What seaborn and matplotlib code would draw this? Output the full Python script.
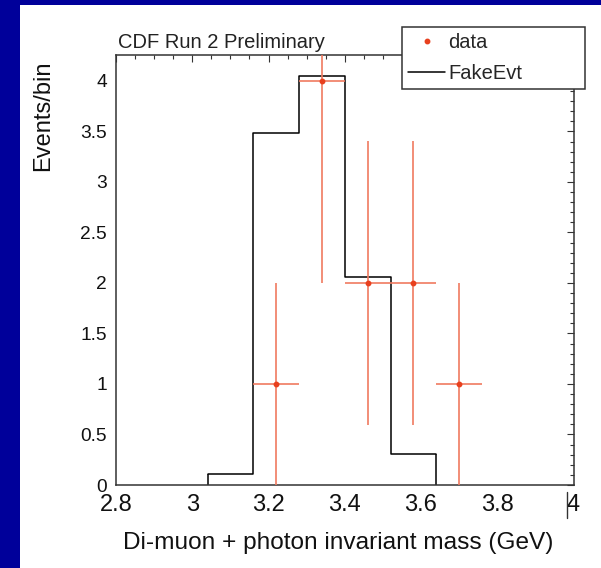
import matplotlib
matplotlib.use('Agg')
import matplotlib.pyplot as plt
from matplotlib.lines import Line2D
from matplotlib.patches import Rectangle
from matplotlib.ticker import MultipleLocator, FormatStrFormatter
import numpy as np
import seaborn as sns

# FakeEvt expectation (step histogram)
bin_edges = [3.04, 3.16, 3.28, 3.40, 3.52, 3.64]
fake_counts = [0.11, 3.48, 4.05, 2.06, 0.31]

# observed data with errors
data_mass = [3.22, 3.34, 3.46, 3.58, 3.70]
data_counts = [1, 4, 2, 2, 1]
data_xerr = [0.06, 0.06, 0.06, 0.06, 0.06]
data_yerr = [1.0, 2.0, 1.41, 1.41, 1.0]

W, H = 601, 568
NAVY = '#00009a'
RED = '#e8401e'
ERR = '#f07a60'
FRAME = '#333333'

sns.set_theme(style='white')
plt.rcParams['font.family'] = ['Liberation Sans', 'DejaVu Sans']

fig = plt.figure(figsize=(W / 100, H / 100), dpi=100, facecolor=NAVY)
fig.add_artist(Rectangle((20 / W, 0), 1, 563 / H, transform=fig.transFigure,
                         facecolor='white', edgecolor='none', zorder=-5))

ax = fig.add_axes([116 / W, 83 / H, 457.5 / W, 430.3 / H])
ax.set_facecolor('white')

centers = np.array(bin_edges[:-1]) + np.diff(bin_edges) / 2
sns.histplot(x=centers, weights=fake_counts, bins=bin_edges, element='step',
             fill=False, color='black', linewidth=1.1, ax=ax)
# close the outline down to zero at both ends
ax.vlines([bin_edges[0], bin_edges[-1]], 0, [fake_counts[0], fake_counts[-1]],
          color='black', linewidth=1.1)

ax.errorbar(data_mass, data_counts, xerr=data_xerr, yerr=data_yerr, fmt='o',
            color=RED, ecolor=ERR, elinewidth=1.2, ms=3.2, capsize=0, zorder=3)

ax.set_xlim(2.8, 4.0)
ax.set_ylim(0, 4.26)
ax.set_xlabel('')
ax.set_ylabel('')
ax.xaxis.set_major_locator(MultipleLocator(0.2))
ax.xaxis.set_minor_locator(MultipleLocator(0.05))
ax.yaxis.set_major_locator(MultipleLocator(0.5))
ax.yaxis.set_minor_locator(MultipleLocator(0.1))
ax.xaxis.set_major_formatter(FormatStrFormatter('%g'))
ax.yaxis.set_major_formatter(FormatStrFormatter('%g'))
ax.tick_params(which='both', direction='in', top=True, right=True,
               color=FRAME, width=0.8)
ax.tick_params(which='major', length=5.2)
ax.tick_params(which='minor', length=3)
ax.tick_params(axis='x', labelsize=17, pad=6.5, labelcolor='#111111')
ax.tick_params(axis='y', labelsize=13.8, pad=6.5, labelcolor='#111111')
for s in ax.spines.values():
    s.set_visible(True)
    s.set_color(FRAME)
    s.set_linewidth(1.1)

fig.text(118 / W, 1 - 48 / H, 'CDF Run 2 Preliminary', fontsize=14.5,
         ha='left', va='baseline', color='#222222')
fig.text(43 / W, 1 - 116 / H, 'Events/bin', rotation=90, fontsize=17,
         ha='center', va='center', color='#111111')
fig.text(338 / W, 1 - 548.5 / H, 'Di-muon + photon invariant mass (GeV)',
         fontsize=17.6, ha='center', va='baseline', color='#111111')

handles = [Line2D([], [], marker='o', ls='none', color=RED, ms=3.2),
           Line2D([], [], color='black', lw=1.1)]
leg = fig.legend(handles, ['data', 'FakeEvt'], loc='upper left',
                 bbox_to_anchor=(402 / W, 1 - 92 / H, 183 / W, 65 / H),
                 mode='expand', borderaxespad=0, fontsize=14.5,
                 frameon=True, fancybox=False, framealpha=1,
                 edgecolor=FRAME, borderpad=0.3, labelspacing=0.6,
                 handlelength=1.85, handletextpad=0.15)
leg.get_frame().set_linewidth(1.1)

# stray vertical stroke next to the last x label in the original
fig.add_artist(Line2D([566.7 / W] * 2, [1 - 491.7 / H, 1 - 518 / H],
                      transform=fig.transFigure, color=FRAME, lw=1))

fig.savefig('out.png', dpi=100, facecolor=fig.get_facecolor())
